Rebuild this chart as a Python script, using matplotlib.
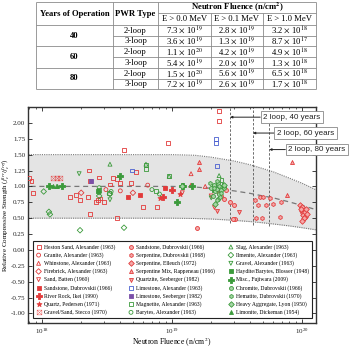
import numpy as np
import matplotlib.pyplot as plt

plt.rcParams['font.family'] = ['Liberation Serif', 'DejaVu Serif']
plt.rcParams['mathtext.fontset'] = 'stix'
plt.rcParams['axes.unicode_minus'] = False

# ---- table values ----
years = ['40', '60', '80']
pwr_types = ['2-loop', '3-loop']
energy_cols = ['E > 0.0 MeV', 'E > 0.1 MeV', 'E > 1.0 MeV']
fluence_e00 = [7.3e19, 3.6e19, 1.1e20, 5.4e19, 1.5e20, 7.2e19]
fluence_e01 = [2.8e19, 1.3e19, 4.2e19, 2.0e19, 5.6e19, 2.6e19]
fluence_e10 = [3.2e18, 8.7e17, 4.9e18, 1.3e18, 6.5e18, 1.7e18]

# ---- trend band ----
band_F = [7e17, 1e19, 1.5e19, 2e19, 3e19, 4e19, 5e19, 6e19, 8e19, 1e20, 1.3e20]
band_mid = [1.0, 1.0, 0.99, 0.97, 0.93, 0.89, 0.85, 0.82, 0.755, 0.70, 0.63]
band_hi = [1.5, 1.5, 1.49, 1.46, 1.40, 1.34, 1.28, 1.23, 1.13, 1.05, 0.94]
band_lo = [0.5, 0.5, 0.495, 0.487, 0.466, 0.446, 0.427, 0.409, 0.378, 0.35, 0.314]

# ---- measured points ----
heston_F = [7.9e17, 8.3e17, 8.5e17, 1.64e18, 1.82e18, 1.96e18, 2.26e18, 2.3e18, 2.34e18, 2.34e18,
            2.6e18, 2.69e18, 2.75e18, 2.8e18, 3.0e18, 3.33e18, 3.5e18, 3.78e18, 3.78e18, 3.98e18,
            4.27e18, 4.84e18, 5.26e18, 6.0e18, 7.7e18, 9.3e18, 2.3e19, 2.3e19]
heston_v = [1.13, 1.08, 0.89, 0.84, 0.86, 0.79, 0.83, 1.25, 0.56, 1.09,
            0.75, 0.79, 1.14, 0.81, 0.75, 1.03, 1.13, 0.51, 1.11, 1.05,
            1.57, 1.06, 1.22, 0.68, 0.67, 1.68, 2.18, 2.03]
granite_F = [3.1e18, 4.0e18, 6.5e18]
granite_v = [0.95, 0.93, 1.02]
whinstone_F = [1.4e19, 1.4e19, 1.8e19]
whinstone_v = [1.2, 1.02, 1.0]
firebrick_F = [2.0e18, 5.0e18]
firebrick_v = [0.9, 0.9]
batten_F = [1.2e19, 2.0e19]
batten_v = [0.9, 0.85]
sandstone_F = [4.6e18, 5.7e18, 8.8e18]
sandstone_v = [0.83, 0.86, 0.97]
river_F = [8.5e18, 1.0e19]
river_v = [0.83, 0.95]
quartz_F = [8.1e18, 1.15e19]
quartz_v = [0.82, 0.88]
stecco_F = [1.22e18, 1.3e18, 1.37e18]
stecco_v = [1.13, 1.13, 1.13]
sandstone2_F = [2.3e19, 2.4e19, 2.5e19, 2.6e19, 2.8e19, 3.0e19, 3.05e19, 2.95e19, 1.55e19]
sandstone2_v = [0.9, 0.85, 0.8, 0.95, 0.75, 0.7, 0.48, 0.48, 0.35]
serp_dub_F = [4.35e19, 4.75e19, 5.0e19, 5.7e19, 6.0e19, 4.4e19, 4.9e19, 6.76e19, 6.9e19, 4.6e19, 5.3e19]
serp_dub_v = [0.79, 0.84, 0.83, 0.81, 0.73, 0.51, 0.51, 0.52, 0.75, 0.70, 0.70]
serp_ell_F = [9.7e19, 1.0e20, 1.0e20, 1.02e20, 1.02e20, 1.05e20, 1.05e20, 1.1e20, 9.9e19, 1.03e20,
              1.07e20, 1.0e20]
serp_ell_v = [0.70, 0.68, 0.62, 0.58, 0.55, 0.60, 0.52, 0.57, 0.65, 0.50,
              0.65, 0.46]
serp_mix_F = [8.4e19, 7.7e19, 1.61e19, 1.61e19]
serp_mix_v = [1.39, 0.87, 1.38, 1.28]
quartzite_F = [2.2e19, 3.3e19, 2.1e19]
quartzite_v = [0.62, 0.60, 0.68]
lime_alex_F = [2.18e19, 2.18e19, 2.22e19, 4.9e18]
lime_alex_v = [1.74, 1.69, 1.32, 1.25]
lime_seeb_F = [2.38e18, 2.3e19]
lime_seeb_v = [1.08, 0.98]
magnetite_F = [6.3e18, 6.3e18, 2.75e18, 3.3e18, 7.5e18, 2.4e19, 2.1e19, 9.5e18]
magnetite_v = [1.33, 1.27, 0.95, 0.90, 0.93, 1.10, 1.00, 1.17]
barytes_F = [2.75e18, 2.75e18, 3.4e18, 7.0e18, 8.0e18]
barytes_v = [0.98, 0.90, 0.92, 0.95, 0.88]
slag_F = [3.33e18, 6.3e18, 2.3e19, 9.5e18, 1.3e18]
slag_v = [1.35, 1.35, 1.17, 1.16, 1.0]
ilmenite_F = [1.03e18, 1.13e18, 1.15e18, 1.96e18, 4.27e18, 2.75e18, 3.33e18]
ilmenite_v = [0.92, 0.60, 0.56, 0.31, 0.35, 0.85, 0.88]
gravel_F = [1.93e18, 3.33e18, 2.0e19]
gravel_v = [1.2, 0.79, 0.82]
haydite_F = [2.7e18, 2.1e19]
haydite_v = [0.93, 0.95]
fujiwara_F = [1.13e18, 1.43e18, 3.98e18, 1.19e19, 1.09e19, 1.43e19, 2.46e19, 1.21e19]
fujiwara_v = [1.0, 1.0, 1.16, 1.0, 0.75, 1.0, 1.0, 1.0]
chromite_F = [2.0e19, 2.1e19, 2.15e19, 2.2e19, 2.25e19, 2.3e19, 2.35e19, 2.4e19, 2.05e19, 2.25e19]
chromite_v = [0.98, 1.02, 0.92, 0.96, 1.05, 0.88, 0.99, 0.94, 0.85, 0.80]
hematite_F = [1.95e19, 2.1e19, 2.2e19, 2.3e19, 2.4e19, 2.5e19, 2.2e19, 2.35e19]
hematite_v = [1.05, 0.97, 1.08, 1.01, 0.90, 0.97, 0.78, 0.84]
heavy_F = [1.2e19, 2.15e19, 2.5e19]
heavy_v = [1.0, 0.73, 1.02]
limonite_F = [1.22e18, 1.3e18]
limonite_v = [1.01, 1.0]

red = '#e23a3a'
pink = '#f4a9a9'
green = '#3b9a3b'
lgreen = '#a6d5a6'
blue = '#4a5fd0'
purple = '#7a4fa8'

series = [
    ('Heston Sand, Alexander (1963)', heston_F, heston_v, 's', red, 'none'),
    ('Granite, Alexander (1963)', granite_F, granite_v, 'o', red, 'none'),
    ('Whinstone, Alexander (1963)', whinstone_F, whinstone_v, '^', red, 'none'),
    ('Firebrick, Alexander (1963)', firebrick_F, firebrick_v, 'D', red, 'none'),
    ('Sand, Batten (1960)', batten_F, batten_v, 'v', red, 'none'),
    ('Sandstone, Dubrovskii (1966)', sandstone_F, sandstone_v, 's', red, red),
    ('River Rock, Ikei (1990)', river_F, river_v, 'P', red, red),
    ('Quartz, Pedersen (1971)', quartz_F, quartz_v, '*', red, red),
    ('Gravel/Sand, Stecco (1970)', stecco_F, stecco_v, r'$\boxtimes$', red, red),
    ('Sandstone, Dubrovskii (1966)', sandstone2_F, sandstone2_v, 'o', red, pink),
    ('Serpentine, Dubrovskii (1968)', serp_dub_F, serp_dub_v, 'h', red, pink),
    ('Serpentine, Elleuch (1972)', serp_ell_F, serp_ell_v, 'D', red, pink),
    ('Serpentine Mix, Rappeneau (1966)', serp_mix_F, serp_mix_v, '^', red, pink),
    ('Quartzite, Seeberger (1982)', quartzite_F, quartzite_v, 'v', red, pink),
    ('Limestone, Alexander (1963)', lime_alex_F, lime_alex_v, 's', blue, 'none'),
    ('Limestone, Seeberger (1982)', lime_seeb_F, lime_seeb_v, 's', purple, purple),
    ('Magnetite, Alexander (1963)', magnetite_F, magnetite_v, 's', green, 'none'),
    ('Barytes, Alexander (1963)', barytes_F, barytes_v, 'o', green, 'none'),
    ('Slag, Alexander (1963)', slag_F, slag_v, '^', green, 'none'),
    ('Ilmenite, Alexander (1963)', ilmenite_F, ilmenite_v, 'D', green, 'none'),
    ('Gravel, Alexander (1963)', gravel_F, gravel_v, 'v', green, 'none'),
    ('Haydite/Barytes, Blosser (1948)', haydite_F, haydite_v, 's', green, green),
    ('Misc., Fujiwara (2009)', fujiwara_F, fujiwara_v, 'P', green, green),
    ('Chromite, Dubrovskii (1966)', chromite_F, chromite_v, 'o', green, lgreen),
    ('Hematite, Dubrovskii (1970)', hematite_F, hematite_v, 'h', green, lgreen),
    ('Heavy Aggregate, Lyon (1950)', heavy_F, heavy_v, 'D', green, lgreen),
    ('Limonite, Dickeman (1954)', limonite_F, limonite_v, '^', green, green),
]

fig = plt.figure(figsize=(3.53, 3.48), dpi=100)

# ---- table (drawn in pixel coordinates) ----
tab = fig.add_axes([0, 0, 1, 1])
tab.set_xlim(0, 353)
tab.set_ylim(348, 0)
tab.axis('off')
tab.patch.set_alpha(0)

cx = [36, 113, 158, 211, 263, 316]
lc = '#8a8a8a'
lw = 0.6
tab.hlines([2, 25, 46, 68, 89], cx[0], cx[-1], color=lc, lw=lw)
tab.hlines([13], cx[2], cx[-1], color=lc, lw=lw)
tab.hlines([35.5, 57, 78.5], cx[1], cx[-1], color=lc, lw=lw)
tab.vlines([cx[0], cx[1], cx[2], cx[-1]], 2, 89, color=lc, lw=lw)
tab.vlines([cx[3], cx[4]], 13, 89, color=lc, lw=lw)

fs = 6.2
tab.text((cx[0] + cx[1]) / 2, 13.5, 'Years of Operation', ha='center', va='center',
         fontsize=fs, fontweight='bold')
tab.text((cx[1] + cx[2]) / 2, 13.5, 'PWR Type', ha='center', va='center',
         fontsize=fs, fontweight='bold')
tab.text((cx[2] + cx[-1]) / 2, 7.3, r'Neutron Fluence (n/cm$^\mathbf{2}$)', ha='center',
         va='center', fontsize=fs, fontweight='bold')
for j, lab in enumerate(energy_cols):
    tab.text((cx[2 + j] + cx[3 + j]) / 2, 19.3, lab, ha='center', va='center', fontsize=fs)


def sci(val):
    e = int(np.floor(np.log10(val)))
    m = val / 10 ** e
    return rf'{m:.1f} $\times$ 10$^{{{e}}}$'


row_top = [25, 35.5, 46, 57, 68, 78.5]
row_bot = [35.5, 46, 57, 68, 78.5, 89]
for i, yr in enumerate(years):
    tab.text((cx[0] + cx[1]) / 2, (row_top[2 * i] + row_bot[2 * i + 1]) / 2, yr,
             ha='center', va='center', fontsize=fs, fontweight='bold')
for r in range(6):
    yc = (row_top[r] + row_bot[r]) / 2 + 0.3
    tab.text((cx[1] + cx[2]) / 2, yc, pwr_types[r % 2], ha='center', va='center', fontsize=fs)
    for j, col in enumerate([fluence_e00, fluence_e01, fluence_e10]):
        tab.text((cx[2 + j] + cx[3 + j]) / 2, yc, sci(col[r]), ha='center', va='center',
                 fontsize=fs)

# ---- main chart ----
ax = fig.add_axes([28 / 353, 25 / 348, 288 / 353, 216 / 348])
ax.set_xscale('log')
ax.set_xlim(7.8e17, 1.28e20)
ax.set_ylim(-1.15, 2.25)

ax.fill_between(band_F, band_lo, band_hi, color='#e4e4e4', lw=0, zorder=0)
ax.plot(band_F, band_hi, ls=(0, (1, 1)), color='#777777', lw=0.8, zorder=1)
ax.plot(band_F, band_lo, ls=(0, (1, 1)), color='#777777', lw=0.8, zorder=1)
ax.plot(band_F, band_mid, ls=(0, (4, 3)), color='#777777', lw=0.9, zorder=1)

two_loop = fluence_e01[0::2]
vline_bottom = [0.42, 0.39, 0.37]
for f, yb in zip(two_loop, vline_bottom):
    ax.plot([f, f], [yb, 2.25], ls=(0, (3, 2)), color='#555555', lw=0.6, zorder=1)

handles = []
for lab, F, v, mk, ec, fc in series:
    if mk.startswith('$'):
        h = ax.scatter(F, v, s=14, marker=mk, c=ec, linewidths=0, zorder=3, label=lab)
    else:
        size = 14 if mk in ('*', 'P') else 8
        h = ax.scatter(F, v, s=size, marker=mk, edgecolors=ec, facecolors=fc,
                       linewidths=0.6, zorder=3, label=lab)
    handles.append(h)

labels_txt = [f'2 loop, {y} years' for y in years]
label_F = [5.0e19, 6.4e19, 7.8e19]
label_y = [2.09, 1.84, 1.58]
for f, txt, lx, ly in zip(two_loop, labels_txt, label_F, label_y):
    ax.annotate(txt, xy=(f, ly), xytext=(lx, ly), ha='left', va='center',
                fontsize=5.8, family='Liberation Sans', color='#222222',
                bbox=dict(boxstyle='square,pad=0.3', fc='white', ec='#888888', lw=0.6),
                arrowprops=dict(arrowstyle='-|>', color='#222222', lw=0.7,
                                mutation_scale=3, shrinkA=0, shrinkB=0),
                annotation_clip=False, zorder=5)

ax.set_yticks(np.arange(-1.0, 2.01, 0.25))
ax.set_yticklabels([f'{t:.2f}' for t in np.arange(-1.0, 2.01, 0.25)])
ax.tick_params(axis='both', which='both', direction='in', top=True, right=True,
               labelsize=5, colors='#222222')
ax.tick_params(which='major', length=3, width=0.6)
ax.tick_params(which='minor', length=1.6, width=0.5)
ax.tick_params(axis='x', pad=2.5)
ax.tick_params(axis='y', pad=2)
for sp in ax.spines.values():
    sp.set_linewidth(1.0)
    sp.set_color('#333333')

ax.set_xlabel(r'Neutron Fluence (n/cm$^2$)', fontsize=5.6)
ax.set_ylabel(r'Relative Compressive Strength ($f_c^{irr}/f_c^{ref}$)', fontsize=5.0)
ax.xaxis.set_label_coords(0.5, -0.062)
ax.yaxis.set_label_coords(-0.057, 0.5)

leg = ax.legend(handles=handles, ncol=3, loc='lower left',
                bbox_to_anchor=(0.017, 0.023, 0.969, 0.29), mode='expand',
                fontsize=4.1, frameon=True, fancybox=False, edgecolor='#222222',
                framealpha=1, borderpad=0.5, labelspacing=0.42, handletextpad=0.4,
                columnspacing=0.8, handlelength=1.0, borderaxespad=0)
leg.get_frame().set_linewidth(0.8)
leg.set_zorder(6)

fig.savefig('out.png', dpi=100)
